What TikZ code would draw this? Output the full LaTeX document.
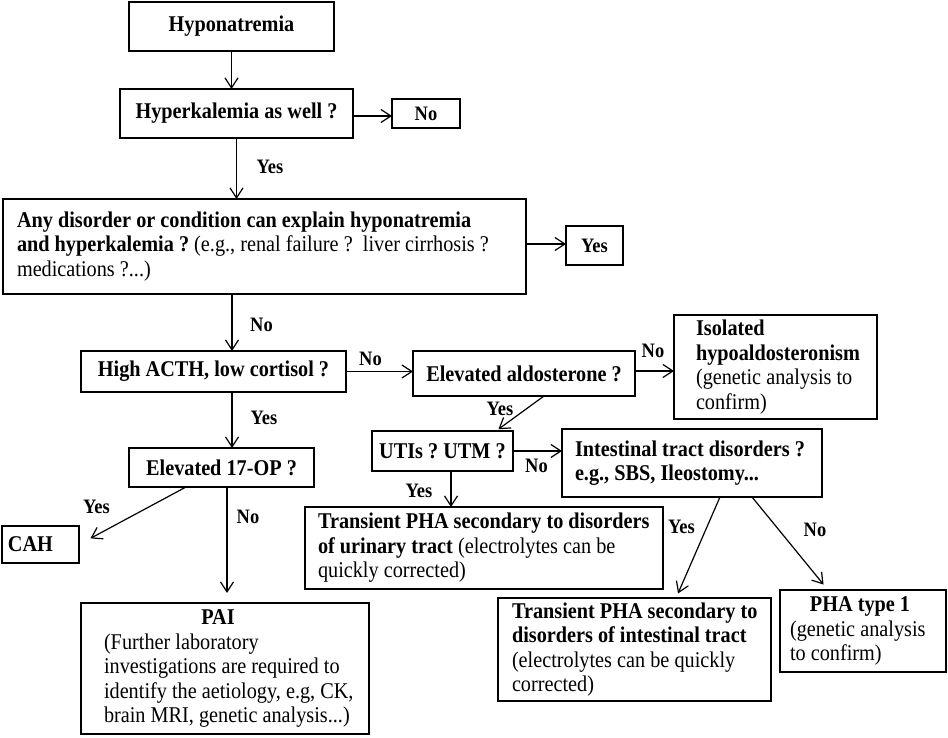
\documentclass[tikz,border=0pt]{standalone}
\usepackage{fontspec}
\setmainfont{Liberation Serif}[FakeStretch=0.9]
\usetikzlibrary{arrows.meta,calc}
\newcommand{\oneln}[1]{\mbox{\spaceskip=0pt\xspaceskip=0pt\relax #1}}
\frenchspacing
\begin{document}
\begin{tikzpicture}[x=1pt,y=-1pt,
  box/.style={draw,line width=1.3pt,inner sep=0pt,outer sep=0pt,
    font=\frenchspacing\fontsize{22.5}{24.5}\selectfont},
  lbox/.style={box,align=left,inner xsep=#1},
  lbl/.style={font=\fontsize{20.5}{22}\selectfont\bfseries,inner sep=0pt},
  arr/.style={line width=1.2pt,-{Straight Barb[length=10pt,width=13pt]}}]
\useasboundingbox (0,0) rectangle (948,738);

% boxes
\node[box,minimum width=205pt,minimum height=49pt] (hypo) at (231.5,26.5) {\textbf{Hyponatremia}};
\node[box,minimum width=233pt,minimum height=49pt] (hyperk) at (236.5,113.5) {\textbf{Hyperkalemia as well ?}};
\node[box,minimum width=68pt,minimum height=29pt,font=\fontsize{20.5}{22}\selectfont] (no1) at (426,113.5) {\textbf{No}};
\node[lbox=14pt,minimum width=523pt,minimum height=95pt,text width=495pt] (any) at (264.5,246.5)
  {\oneln{\textbf{Any disorder or condition can explain hyponatremia}}\\
   \oneln{\textbf{and hyperkalemia ?} (e.g., renal failure ?\ \ liver cirrhosis ?}\\
   \oneln{medications ?...)}};
\node[box,minimum width=57pt,minimum height=39pt,font=\fontsize{20.5}{22}\selectfont] (yes1) at (594.5,245.5) {\textbf{Yes}};
\node[box,minimum width=265pt,minimum height=41pt] (acth) at (213.5,371.5) {\textbf{High ACTH, low cortisol ?}};
\node[box,minimum width=222pt,minimum height=45pt] (ald) at (524,373.5) {\textbf{Elevated aldosterone ?}};
\node[lbox=22pt,minimum width=203pt,minimum height=104pt,text width=159pt] (iso) at (775.5,367)
  {\oneln{\textbf{Isolated}}\\
   \oneln{\textbf{hypoaldosteronism}}\\
   \oneln{(genetic analysis to}\\
   \oneln{confirm)}};
\node[box,minimum width=185pt,minimum height=39pt] (op) at (221.5,467.5) {\textbf{Elevated 17-OP ?}};
\node[lbox=6pt,minimum width=77pt,minimum height=37pt,text width=65pt] (cah) at (40.5,544.5) {\textbf{CAH}};
\node[lbox=23pt,minimum width=288pt,minimum height=131pt,text width=242pt] (pai) at (225,668.5)
  {\makebox[228pt]{\textbf{PAI}}\\
   \oneln{(Further laboratory}\\
   \oneln{investigations are required to}\\
   \oneln{identify the aetiology, e.g, CK,}\\
   \oneln{brain MRI, genetic analysis...)}};
\node[box,minimum width=141pt,minimum height=40pt] (uti) at (442.5,451) {\textbf{UTIs ? UTM ?}};
\node[lbox=13pt,minimum width=260pt,minimum height=68pt,text width=234pt] (intest) at (692,463)
  {\oneln{\textbf{Intestinal tract disorders ?}}\\
   \oneln{\textbf{e.g., SBS, Ileostomy...}}};
\node[lbox=13pt,minimum width=358pt,minimum height=82pt,text width=332pt] (tur) at (484,548)
  {\oneln{\textbf{Transient PHA secondary to disorders}}\\
   \oneln{\textbf{of urinary tract} (electrolytes can be}\\
   \oneln{quickly corrected)}};
\node[lbox=14pt,minimum width=273pt,minimum height=103pt,text width=245pt] (tint) at (634.5,649.5)
  {\oneln{\textbf{Transient PHA secondary to}}\\
   \oneln{\textbf{disorders of intestinal tract}}\\
   \oneln{(electrolytes can be quickly}\\
   \oneln{corrected)}};
\node[lbox=10pt,minimum width=166pt,minimum height=82pt,text width=146pt] (pha) at (863,631)
  {\makebox[140pt]{\oneln{\textbf{PHA type 1}}}\\
   \oneln{(genetic analysis}\\
   \oneln{to confirm)}};

% connectors
\draw[arr] (hypo.south) -- (hypo.south |- hyperk.north);
\draw[arr] ([yshift=-2.5pt]hyperk.east) -- ([yshift=-2.5pt]hyperk.east -| no1.west);
\draw[arr] (hyperk.south) -- (hyperk.south |- any.north);
\draw[arr] ([yshift=2.5pt]any.east) -- ([yshift=2.5pt]any.east -| yes1.west);
\draw[arr] ([xshift=-32.5pt]any.south) -- ([xshift=-32.5pt]any.south |- acth.north);
\draw[arr] (acth.east) -- (acth.east -| ald.west);
\draw[arr] ([yshift=2.5pt]ald.east) -- ([yshift=2.5pt]ald.east -| iso.west);
\draw[arr,shorten >=3pt] ([xshift=20pt]ald.south) -- ([xshift=53.5pt]uti.north);
\draw[arr] ([xshift=18.5pt]acth.south) -- ([xshift=18.5pt]acth.south |- op.north);
\draw[arr,shorten >=13pt] ([xshift=-35.5pt]op.south) -- (cah.east);
\draw[arr,shorten >=10pt] ([xshift=5.5pt]op.south) -- ([xshift=5.5pt]op.south |- pai.north);
\draw[arr] ([xshift=8.5pt]uti.south) -- ([xshift=8.5pt]uti.south |- tur.north);
\draw[arr] (uti.east) -- (uti.east -| intest.west);
\draw[arr,shorten >=5pt] ([xshift=28pt]intest.south) -- ([xshift=41.5pt]tint.north);
\draw[arr,shorten >=7pt] ([xshift=60pt]intest.south) -- ([xshift=-35pt]pha.north);

% labels
\node[lbl] (l1) at (270,167) {Yes};
\node[lbl] (l2) at (261.5,325) {No};
\node[lbl] (l3) at (264,418) {Yes};
\node[lbl] (l4) at (370.5,359) {No};
\node[lbl] (l5) at (653,351) {No};
\node[lbl] (l6) at (500,409) {Yes};
\node[lbl] (l7) at (96.5,507) {Yes};
\node[lbl] (l8) at (248,517) {No};
\node[lbl] (l9) at (419,491) {Yes};
\node[lbl] (l10) at (536.5,466) {No};
\node[lbl] (l11) at (681.5,527) {Yes};
\node[lbl] (l12) at (815,530) {No};
\end{tikzpicture}
\end{document}
